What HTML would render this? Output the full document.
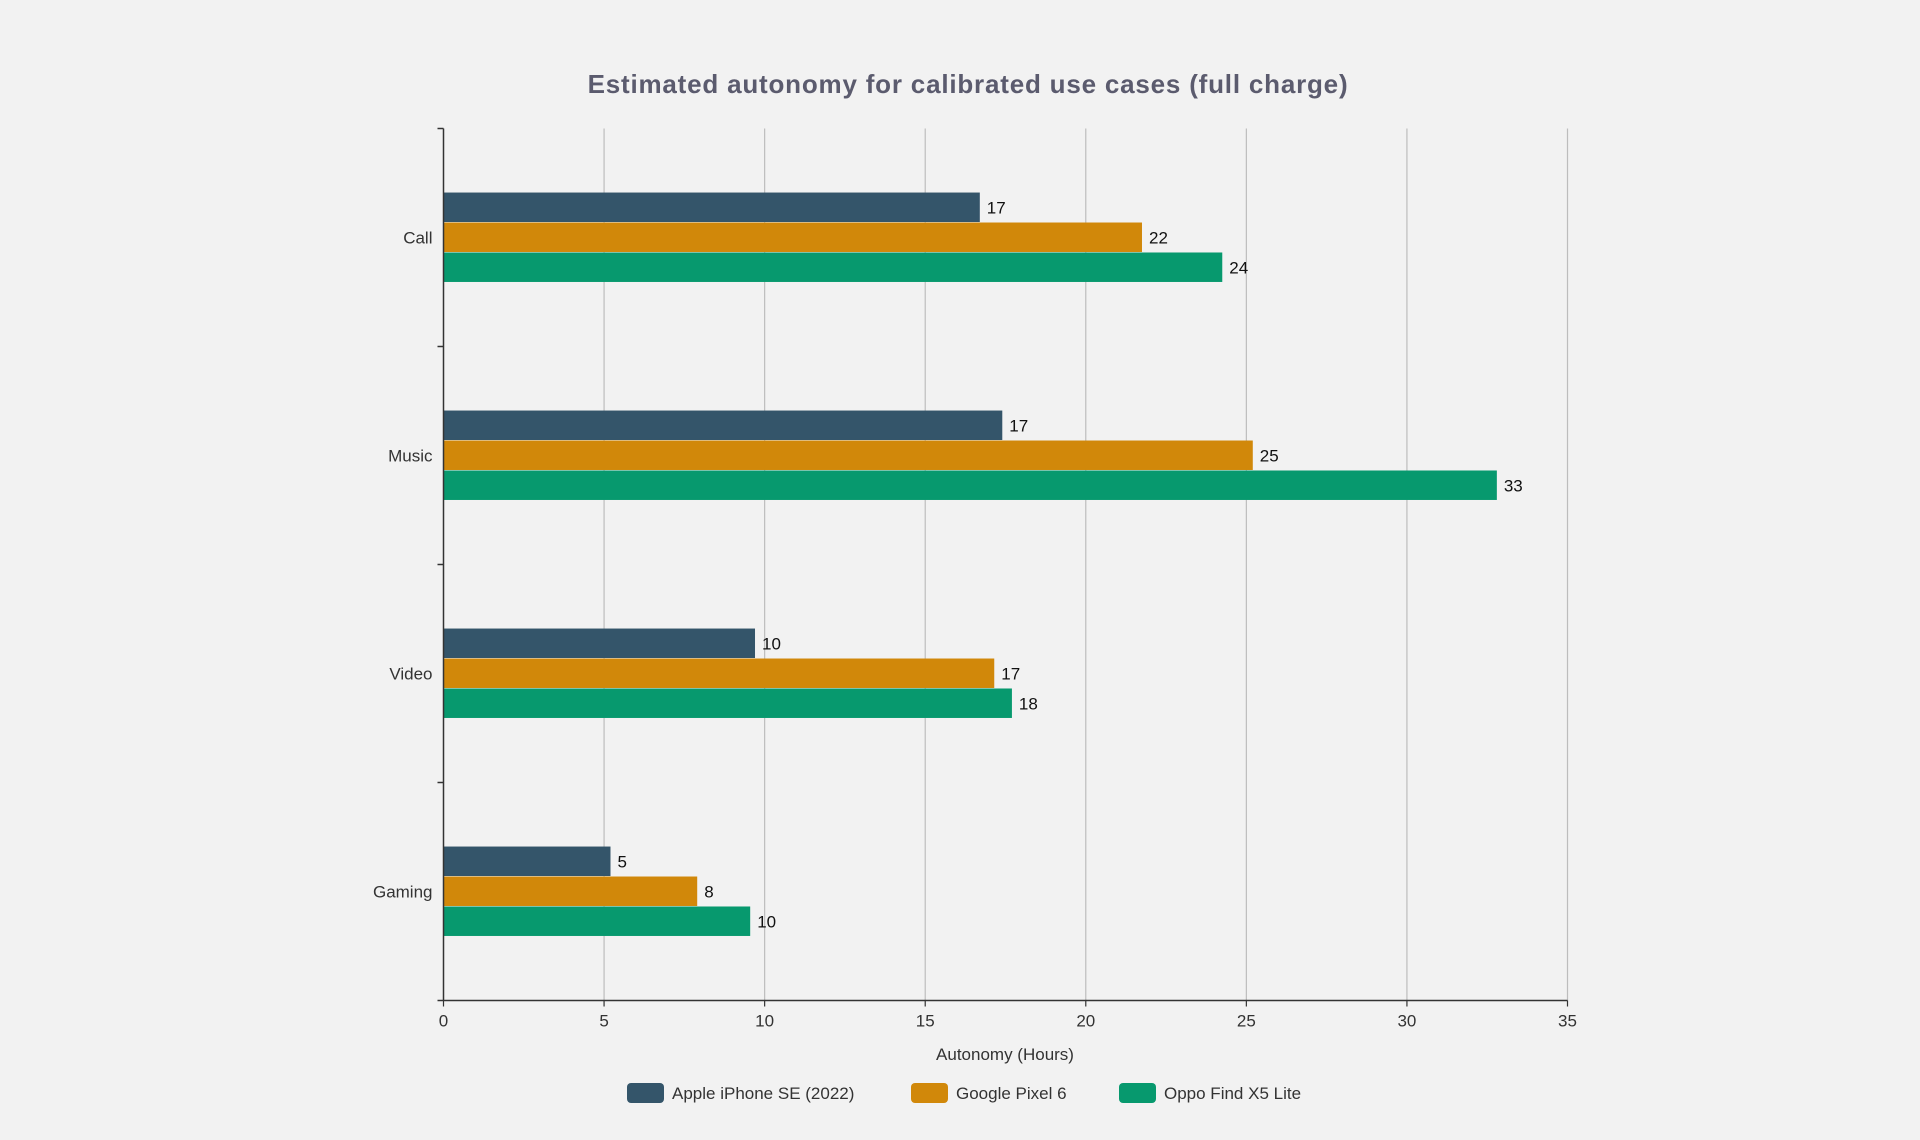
<!DOCTYPE html>
<html><head><meta charset="utf-8"><style>
html,body{margin:0;padding:0;background:#f2f2f2;}
svg{display:block;font-family:"Liberation Sans",sans-serif;}
</style></head><body>
<svg id="chart" width="1920" height="1140" viewBox="0 0 1920 1140" xmlns="http://www.w3.org/2000/svg">
<rect width="1920" height="1140" fill="#f2f2f2"/>
<text x="968" y="93" text-anchor="middle" font-size="26" font-weight="bold" fill="#5b5b6e" letter-spacing="0.8">Estimated autonomy for calibrated use cases (full charge)</text>
<g id="grid"></g><g id="bars"></g><g id="axes"></g>
<text x="1005" y="1060" text-anchor="middle" font-size="17" fill="#333">Autonomy (Hours)</text>
<g id="legend"></g>
</svg>
<script>
const categories = ["Call","Music","Video","Gaming"];
const seriesNames = ["Apple iPhone SE (2022)","Google Pixel 6","Oppo Find X5 Lite"];
const iphoneValues = [16.7,17.4,9.7,5.2];
const pixelValues = [21.75,25.2,17.15,7.9];
const oppoValues = [24.25,32.8,17.7,9.55];
const valueLabels = [[17,17,10,5],[22,25,17,8],[24,33,18,10]];
const xTicks = [0,5,10,15,20,25,30,35];
const colors = ["#34556a","#d1880a","#07996e"];
const series=[iphoneValues,pixelValues,oppoValues];
const NS="http://www.w3.org/2000/svg";
const X0=443.5,X1=1567.5,XMAX=35,Y0=128.5,Y1=1000.5;
const x=v=>X0+(X1-X0)*v/XMAX;
const band=(Y1-Y0)/categories.length;
const bh=band*0.1375;
function mk(tag,attrs,parent){const e=document.createElementNS(NS,tag);for(const k in attrs)e.setAttribute(k,attrs[k]);parent.appendChild(e);return e;}
const grid=document.getElementById('grid'),bars=document.getElementById('bars'),axes=document.getElementById('axes'),leg=document.getElementById('legend');
xTicks.forEach(t=>{
  if(t>0){const l=mk('line',{x1:x(t),x2:x(t),y1:Y0,y2:Y1,stroke:'#bdbdbd','stroke-width':1.2},grid);
  
  }
  const tk=mk('line',{x1:x(t),x2:x(t),y1:Y1,y2:Y1+6,stroke:'#333','stroke-width':1.2},axes);
  
  
  const tx=mk('text',{x:x(t),y:Y1+26,'text-anchor':'middle','font-size':17,fill:'#333'},axes);tx.textContent=t;
  
  
});
const ya=mk('line',{x1:X0,x2:X0,y1:Y0,y2:Y1,stroke:'#333','stroke-width':1.5},axes);


const xa=mk('line',{x1:X0,x2:X1,y1:Y1,y2:Y1,stroke:'#333','stroke-width':1.5},axes);


for(let i=0;i<=categories.length;i++){
  const tk=mk('line',{x1:X0-6,x2:X0,y1:Y0+band*i,y2:Y0+band*i,stroke:'#333','stroke-width':1.5},axes);
  
  
}
categories.forEach((c,i)=>{
  const cy=Y0+band*(i+0.5);
  const t=mk('text',{x:X0-11,y:cy+6,'text-anchor':'end','font-size':17,fill:'#333'},axes);t.textContent=c;
  
  
  series.forEach((s,j)=>{
    const y=cy-1.5*bh+j*bh;
    const r=mk('rect',{x:X0,y:y,width:x(s[i])-X0,height:bh-0.5,fill:colors[j]},bars);
    
    
    const lb=mk('text',{x:x(s[i])+7,y:y+bh/2+6,'font-size':17,fill:'#111'},bars);lb.textContent=valueLabels[j][i];
    
    
  });
});
const lx=[627,911,1119];
seriesNames.forEach((n,j)=>{
  const r=mk('rect',{x:lx[j],y:1083,width:37,height:20,rx:4,fill:colors[j]},leg);
  
  
  const t=mk('text',{x:lx[j]+45,y:1099,'font-size':17,fill:'#333'},leg);t.textContent=n;
  
  
});
</script>
</body></html>
